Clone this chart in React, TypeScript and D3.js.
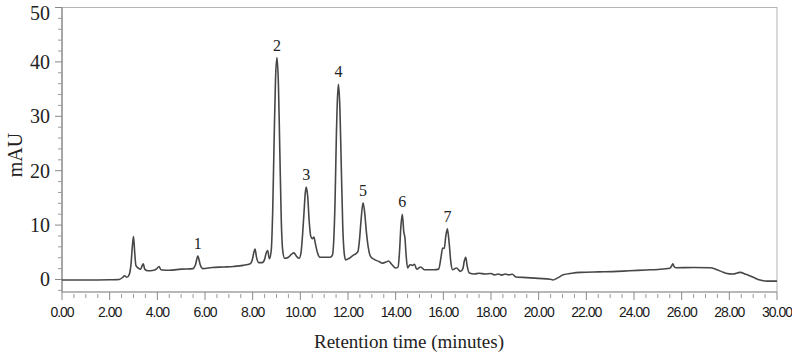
import * as d3 from "d3"

// chromatogram trace: retention time (min) and absorbance (mAU)
const traceTime = [
  0.0, 1.0, 2.0, 2.4, 2.55, 2.62, 2.72, 2.82, 2.9, 2.95, 3.0, 3.05, 3.1, 3.2, 3.3, 3.36, 3.41, 3.47, 3.6, 3.85,
  3.98, 4.07, 4.15, 4.5, 5.0, 5.5, 5.6, 5.7, 5.8, 5.9, 6.3, 6.8, 7.2, 7.6, 7.9, 8.0, 8.05, 8.1, 8.16, 8.25,
  8.4, 8.5, 8.57, 8.63, 8.7, 8.78, 8.84, 8.9, 8.96, 9.02, 9.08, 9.14, 9.2, 9.26, 9.34, 9.5, 9.62, 9.73, 9.85, 9.95,
  10.03, 10.09, 10.15, 10.21, 10.25, 10.31, 10.37, 10.44, 10.51, 10.57, 10.64, 10.72, 10.82, 11.0, 11.25, 11.34, 11.4, 11.46, 11.51, 11.56,
  11.6, 11.66, 11.72, 11.78, 11.84, 11.9, 12.05, 12.2, 12.35, 12.42, 12.48, 12.55, 12.63, 12.7, 12.77, 12.85, 12.95, 13.1, 13.3, 13.45,
  13.6, 13.7, 13.85, 14.0, 14.1, 14.16, 14.22, 14.28, 14.34, 14.39, 14.44, 14.5, 14.6, 14.7, 14.79, 14.88, 15.05, 15.2, 15.6, 15.8,
  15.9, 15.97, 16.04, 16.1, 16.17, 16.24, 16.32, 16.39, 16.55, 16.72, 16.82, 16.88, 16.94, 17.0, 17.09, 17.3, 17.5, 17.75, 18.0, 18.15,
  18.3, 18.45, 18.6, 18.75, 18.9, 19.05, 19.5, 20.0, 20.48, 20.6, 20.8, 21.03, 21.4, 21.75, 22.5, 23.1, 23.8, 24.53, 25.0, 25.5,
  25.58, 25.63, 25.68, 25.75, 26.5, 27.19, 27.45, 27.7, 27.85, 28.15, 28.45, 28.7, 29.0, 29.29, 29.6, 30.0,
]
const traceMAU = [
  -0.1, -0.1, -0.05, 0.0, 0.4, 0.7, 0.4, 0.9, 3.0, 6.0, 7.9, 5.0, 2.6, 2.1, 1.9, 2.5, 2.9, 1.9, 1.6, 1.7,
  2.0, 2.4, 1.8, 1.7, 1.9, 2.0, 2.7, 4.3, 2.7, 2.0, 2.2, 2.3, 2.4, 2.6, 2.9, 3.9, 5.0, 5.6, 4.1, 3.1,
  3.1, 3.7, 4.9, 5.3, 3.8, 5.4, 12.5, 25.5, 37.0, 40.8, 36.0, 23.5, 11.0, 5.4, 3.9, 4.1, 4.6, 4.9, 4.2, 3.9,
  5.0, 8.0, 12.0, 16.0, 17.0, 15.2, 10.8, 7.9, 7.5, 7.8, 6.4, 4.9, 4.1, 4.1, 4.1, 4.4, 7.0, 15.0, 26.0, 33.5,
  35.9, 31.5, 20.5, 9.8, 4.9, 3.6, 3.9, 4.4, 4.8, 5.2, 7.2, 11.0, 14.1, 12.3, 8.8, 5.9, 4.2, 3.7, 3.3, 3.0,
  3.2, 3.4, 2.7, 2.1, 2.3, 5.0, 9.8, 12.0, 8.8, 7.6, 4.4, 2.1, 2.7, 2.6, 2.8, 1.9, 2.3, 1.8, 1.8, 1.9,
  4.0, 5.8, 5.7, 7.9, 9.3, 6.9, 3.0, 1.8, 2.1, 1.5, 2.0, 3.4, 4.1, 2.5, 1.2, 1.0, 1.15, 1.0, 1.1, 0.85,
  1.0, 0.8, 1.0, 0.85, 0.95, 0.45, 0.35, 0.2, 0.05, -0.1, 0.3, 0.85, 1.15, 1.3, 1.4, 1.45, 1.6, 1.75, 1.85, 2.05,
  2.5, 2.9, 2.4, 2.15, 2.2, 2.15, 1.85, 1.4, 1.15, 1.0, 1.3, 0.95, 0.4, -0.1, -0.3, -0.3,
]

// numbered peaks and their apex times
const peakNumbers = ["1", "2", "3", "4", "5", "6", "7"]
const peakTimes = [5.7, 9.02, 10.25, 11.6, 12.63, 14.28, 16.17]

const yMajorTicks = [0, 10, 20, 30, 40, 50]
const yMinorTicks = [-2, 2, 4, 6, 8, 12, 14, 16, 18, 22, 24, 26, 28, 32, 34, 36, 38, 42, 44, 46, 48]

const W = 792
const H = 357
const left = 62
const right = 777
const top = 7.5
const bottom = 292

const serif = "'Liberation Serif', 'Times New Roman', serif"
const sans = "'Liberation Sans', Arial, sans-serif"

export default function App() {
  const x = d3.scaleLinear().domain([0, 30]).range([left, right])
  const y = d3.scaleLinear().domain([-2.3, 50]).range([bottom, top])

  const points = traceTime.map((t, i) => [t, traceMAU[i]] as [number, number])
  const line = d3
    .line<[number, number]>()
    .x((d) => x(d[0]))
    .y((d) => y(d[1]))
    .curve(d3.curveMonotoneX)

  const xMajor = d3.range(0, 30.001, 2)
  const xMinor = d3.range(0, 30.001, 0.5).filter((t) => Math.abs(t % 2) > 1e-6)
  const fmt = d3.format(".2f")

  const apex = (t: number) => traceMAU[traceTime.indexOf(t)]

  return (
    <svg width={W} height={H} style={{ position: "absolute", left: 0, top: 0, background: "#fff" }}>
      {/* plot frame */}
      <rect x={left} y={top} width={right - left} height={bottom - top} fill="none" stroke="#b4b4b4" strokeWidth={1} />
      <line x1={left} x2={left} y1={top} y2={bottom} stroke="#777" strokeWidth={1} />
      <line x1={left} x2={right} y1={bottom} y2={bottom} stroke="#999" strokeWidth={1} />

      {/* y axis */}
      {yMinorTicks.map((v) => (
        <line key={"ym" + v} x1={left - 4} x2={left} y1={y(v)} y2={y(v)} stroke="#999" />
      ))}
      {yMajorTicks.map((v) => (
        <g key={"yM" + v}>
          <line x1={left - 7} x2={left} y1={y(v)} y2={y(v)} stroke="#888" />
          <text
            x={50}
            y={Math.max(y(v), 13)}
            dy="0.35em"
            textAnchor="end"
            fontFamily={serif}
            fontSize={20}
            fill="#222"
          >
            {v}
          </text>
        </g>
      ))}
      <text
        transform={`translate(22,155) rotate(-90)`}
        textAnchor="middle"
        fontFamily={serif}
        fontSize={20}
        fill="#222"
      >
        mAU
      </text>

      {/* x axis */}
      {xMinor.map((t) => (
        <line key={"xm" + t} x1={x(t)} x2={x(t)} y1={bottom + 2} y2={bottom + 6} stroke="#999" />
      ))}
      {xMajor.map((t) => (
        <g key={"xM" + t}>
          <line x1={x(t)} x2={x(t)} y1={bottom} y2={bottom + 8} stroke="#888" />
          <text
            x={x(t)}
            y={317}
            textAnchor="middle"
            fontFamily={sans}
            fontSize={14}
            letterSpacing={-1}
            fill="#1a1a1a"
          >
            {fmt(t)}
          </text>
        </g>
      ))}
      <text x={409} y={348} textAnchor="middle" fontFamily={serif} fontSize={19} fill="#222">
        Retention time (minutes)
      </text>

      {/* trace */}
      <path d={line(points) ?? ""} fill="none" stroke="#474747" strokeWidth={1.6} strokeLinejoin="round" />

      {/* peak numbers */}
      {peakNumbers.map((n, i) => (
        <text
          key={n}
          x={x(peakTimes[i])}
          y={y(apex(peakTimes[i])) - 7}
          textAnchor="middle"
          fontFamily={serif}
          fontSize={16}
          fill="#222"
        >
          {n}
        </text>
      ))}
    </svg>
  )
}
